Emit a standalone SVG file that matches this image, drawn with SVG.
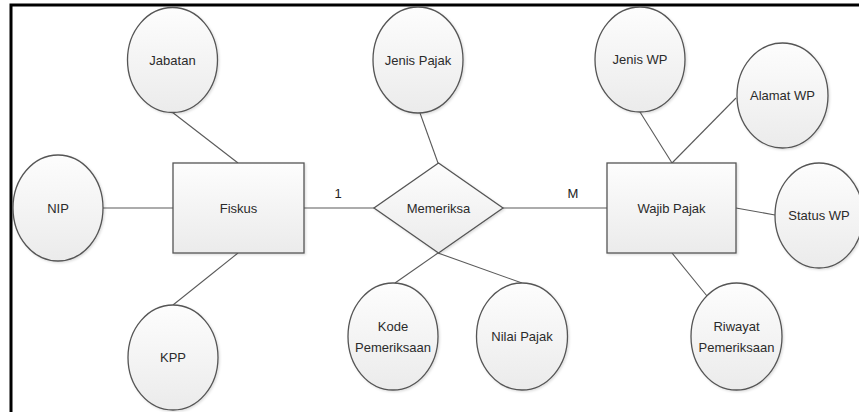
<svg xmlns="http://www.w3.org/2000/svg" width="859" height="412" viewBox="0 0 859 412">
  <style>
    .shape { fill: url(#fillGrad); stroke: #555555; stroke-width: 1.3; filter: url(#shadow); }
    .edge { fill: none; stroke: #5a5a5a; stroke-width: 1.1; }
    .label { font-family: "Liberation Sans", Arial, sans-serif; font-size: 13px; fill: #2b2b2b; text-anchor: middle; }
    .card { font-family: "Liberation Sans", Arial, sans-serif; font-size: 13px; fill: #222222; text-anchor: middle; }
  </style>
  <defs>
    <linearGradient id="fillGrad" x1="0" y1="0" x2="0" y2="1">
      <stop offset="0" stop-color="#fdfdfd"/>
      <stop offset="1" stop-color="#ebebeb"/>
    </linearGradient>
    <filter id="shadow" x="-10%" y="-10%" width="130%" height="130%">
      <feDropShadow dx="1.2" dy="1.2" stdDeviation="0.8" flood-color="#000000" flood-opacity="0.14"/>
    </filter>
  </defs>

  <rect width="859" height="412" fill="#ffffff"/>

  <!-- page frame (left and top edges) -->
  <polyline points="11,420 11,5 870,5" fill="none" stroke="#000000" stroke-width="3"/>

  <!-- connectors -->
  <g id="connectors">
    <line class="edge" x1="172" y1="112" x2="238" y2="163"/>
    <line class="edge" x1="103" y1="208" x2="173" y2="208"/>
    <line class="edge" x1="173" y1="305" x2="238" y2="253"/>
    <line class="edge" x1="304" y1="208" x2="374" y2="208"/>
    <line class="edge" x1="420" y1="113" x2="438" y2="163"/>
    <line class="edge" x1="438" y1="253" x2="395" y2="283"/>
    <line class="edge" x1="438" y1="253" x2="522" y2="283"/>
    <line class="edge" x1="503" y1="208" x2="607" y2="208"/>
    <line class="edge" x1="640" y1="112" x2="672" y2="163"/>
    <line class="edge" x1="736" y1="98" x2="672" y2="163"/>
    <line class="edge" x1="736" y1="208" x2="775" y2="215"/>
    <line class="edge" x1="672" y1="253" x2="707" y2="296"/>
    <text class="card" x="338" y="198">1</text>
    <text class="card" x="573" y="198">M</text>
  </g>

  <!-- entity: Fiskus -->
  <g id="fiskus">
    <rect class="shape" x="173" y="163" width="131" height="90"/>
    <text class="label" x="238.5" y="212.5">Fiskus</text>
  </g>

  <!-- relationship: Memeriksa -->
  <g id="memeriksa">
    <polygon class="shape" points="438.5,163 503,208 438.5,253 374,208"/>
    <text class="label" x="438.5" y="212.5">Memeriksa</text>
  </g>

  <!-- entity: Wajib Pajak -->
  <g id="wajib-pajak">
    <rect class="shape" x="607" y="163" width="129" height="90"/>
    <text class="label" x="671.5" y="212.5">Wajib Pajak</text>
  </g>

  <!-- attributes -->
  <g id="attr-jabatan">
    <ellipse class="shape" cx="172.5" cy="60" rx="45" ry="52.5"/>
    <text class="label" x="172.5" y="64.5">Jabatan</text>
  </g>
  <g id="attr-nip">
    <ellipse class="shape" cx="58" cy="208" rx="45" ry="53"/>
    <text class="label" x="58" y="212.5">NIP</text>
  </g>
  <g id="attr-kpp">
    <ellipse class="shape" cx="173" cy="357.5" rx="45" ry="52.5"/>
    <text class="label" x="173" y="362">KPP</text>
  </g>
  <g id="attr-jenis-pajak">
    <ellipse class="shape" cx="418" cy="60" rx="45" ry="53"/>
    <text class="label" x="418" y="64.5">Jenis Pajak</text>
  </g>
  <g id="attr-kode-pemeriksaan">
    <ellipse class="shape" cx="393" cy="336.5" rx="45" ry="53.5"/>
    <text class="label" x="393" y="331">Kode</text>
    <text class="label" x="393" y="352">Pemeriksaan</text>
  </g>
  <g id="attr-nilai-pajak">
    <ellipse class="shape" cx="522" cy="336.5" rx="45.5" ry="53.5"/>
    <text class="label" x="522" y="341">Nilai Pajak</text>
  </g>
  <g id="attr-jenis-wp">
    <ellipse class="shape" cx="640" cy="59.5" rx="45" ry="52.5"/>
    <text class="label" x="640" y="64">Jenis WP</text>
  </g>
  <g id="attr-alamat-wp">
    <ellipse class="shape" cx="782.5" cy="95.5" rx="45.5" ry="52.5"/>
    <text class="label" x="782.5" y="100">Alamat WP</text>
  </g>
  <g id="attr-status-wp">
    <ellipse class="shape" cx="819" cy="215.5" rx="44" ry="52.5"/>
    <text class="label" x="819" y="220">Status WP</text>
  </g>
  <g id="attr-riwayat-pemeriksaan">
    <ellipse class="shape" cx="736.5" cy="336.5" rx="45.5" ry="53.5"/>
    <text class="label" x="736.5" y="331">Riwayat</text>
    <text class="label" x="736.5" y="352">Pemeriksaan</text>
  </g>
</svg>
